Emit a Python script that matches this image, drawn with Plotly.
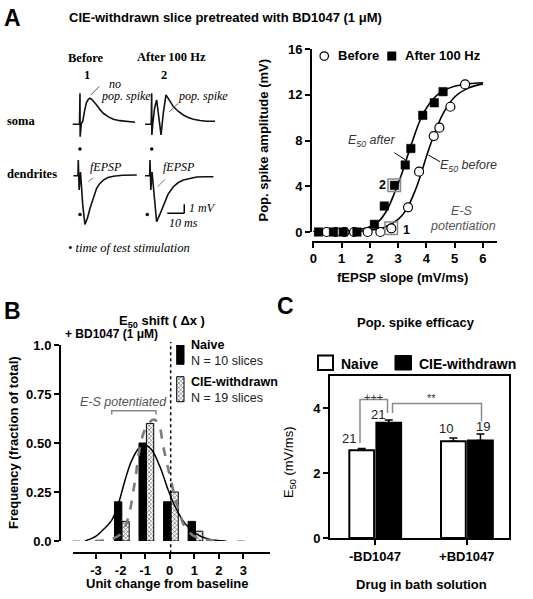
import plotly.graph_objects as go

W, H = 533, 599
def fx(p): return p / W
def fy(p): return 1 - p / H

SANS = "Liberation Sans, Arial, sans-serif"
SERIF = "Liberation Serif, Times New Roman, serif"

# ---------------- Panel A (right): input/output curves ----------------
before_slope = [0.47, 0.79, 1.1, 1.44, 1.92, 2.37, 2.76, 3.35, 3.74, 4.26, 4.46, 4.85, 5.37]
before_amp   = [0, 0, 0, 0, 0, 0, 0.32, 2.16, 5.27, 8.39, 9.12, 10.95, 12.9]
after_slope  = [0.18, 0.71, 1.06, 1.54, 2.16, 2.51, 2.87, 3.25, 3.45, 3.87, 4.28, 4.59]
after_amp    = [0, 0, 0, 0, 0.67, 2.27, 4.08, 5.86, 7.3, 10.2, 11.3, 12.27]
fit_before_slope = [0, 1, 1.5, 2, 2.5, 3, 3.3, 3.6, 3.8, 4.0, 4.3, 4.6, 5.0, 5.5, 6.0]
fit_before_amp   = [0, 0.02, 0.06, 0.15, 0.4, 1.1, 2.0, 3.6, 5.0, 6.6, 8.7, 10.4, 11.8, 12.6, 12.95]
fit_after_slope  = [0, 1, 1.5, 2, 2.3, 2.6, 2.9, 3.1, 3.3, 3.5, 3.8, 4.1, 4.5, 5.0, 5.5, 6.0]
fit_after_amp    = [0, 0.05, 0.15, 0.45, 0.9, 1.9, 3.6, 4.9, 6.4, 7.9, 9.9, 11.2, 12.2, 12.75, 12.95, 13.05]
slope_ticks = [0, 1, 2, 3, 4, 5, 6]
amp_ticks = [0, 4, 8, 12, 16]

# ---------------- Panel A (left): example traces (ms, mV rel. to stimulus/baseline) ----------------
soma_before_t = [-4.3, -0.3, 0.0, 0.1, 0.8, 1.6, 2.6, 3.8, 5.0, 5.9, 7.0, 8.5, 9.8, 11.5, 13.7, 16.5, 19.6, 23.5, 27.5, 32.4]
soma_before_v = [0, 0, 3.44, -1.38, 0.1, 0.3, 1.4, 2.4, 2.8, 2.89, 2.75, 2.45, 2.14, 1.7, 1.22, 0.85, 0.56, 0.4, 0.29, 0.22]
soma_after_t = [-3.9, -0.3, 0.0, 0.1, 0.6, 1.7, 2.9, 4.2, 5.5, 6.8, 8.4, 10.0, 12.7, 15.5, 18.6, 21.5, 24.5, 28.5, 32.4, 37.3]
soma_after_v = [0, 0, 3.44, -1.19, 0.0, 1.8, 2.7, 1.0, -1.19, 1.2, 3.26, 2.8, 1.96, 1.45, 1.03, 0.75, 0.56, 0.42, 0.33, 0.33]
dend_before_t = [-2.9, -0.2, 0.0, 0.5, 1.3, 2.6, 3.9, 5.4, 6.9, 8.8, 10.8, 12.7, 14.7, 17.5, 20.6, 26.0, 34.4]
dend_before_v = [0, 0, 1.74, -1.59, 0.41, -3.2, -5.4, -4.7, -3.62, -2.4, -1.4, -0.85, -0.48, -0.2, -0.05, 0.05, 0.08]
dend_after_t = [-2.9, -0.2, 0.0, 0.5, 1.2, 2.6, 3.9, 5.8, 7.8, 10.5, 13.7, 16.5, 19.6, 23.5, 27.5, 32.4, 37.3]
dend_after_v = [0, 0, 1.74, -1.59, 0.41, -3.0, -5.11, -4.3, -3.26, -2.1, -1.22, -0.78, -0.48, -0.28, -0.14, -0.11, -0.11]
stim_soma_t, stim_soma_v = [0.0, 0.0], [-2.75, -2.75]
stim_dend_t, stim_dend_v = [1.0, -1.6], [-4.3, -4.3]

# ---------------- Panel B: E50 shift histogram ----------------
shift_bins = [-2, -1, 0, 1]
naive_freq = [0.2, 0.5, 0.2, 0.1]
cie_freq   = [0.1, 0.6, 0.25, 0.05]
naive_fit_x = [-3.45, -3.0, -2.77, -2.36, -2.09, -1.82, -1.55, -1.21, -1.0, -0.73, -0.4, -0.06, 0.22, 0.62, 1.03, 1.57, 2.3]
naive_fit_y = [0.0, 0.025, 0.05, 0.107, 0.19, 0.31, 0.41, 0.48, 0.49, 0.464, 0.38, 0.26, 0.175, 0.09, 0.04, 0.01, 0.0]
cie_fit_x = [-3.05, -2.36, -1.96, -1.69, -1.41, -1.21, -1.0, -0.67, -0.46, -0.26, 0.01, 0.29, 0.62, 1.03, 1.57, 2.25]
cie_fit_y = [0.0, 0.01, 0.04, 0.12, 0.31, 0.48, 0.57, 0.62, 0.6, 0.48, 0.33, 0.19, 0.073, 0.022, 0.005, 0.0]
shift_ticks = [-3, -2, -1, 0, 1, 2, 3]
freq_ticks = [0, 0.25, 0.5, 0.75, 1.0]
freq_labels = ["0.0", "0.25", "0.50", "0.75", "1.0"]

# ---------------- Panel C: E50 bars ----------------
conditions = ["-BD1047", "+BD1047"]
naive_e50 = [2.7, 2.98]
naive_sem = [0.05, 0.1]
cie_e50 = [3.55, 3.0]
cie_sem = [0.08, 0.2]
naive_n = [21, 10]
cie_n = [21, 19]
e50_ticks = [0, 2, 4]

fig = go.Figure()

# ---- Panel A right traces
fig.add_trace(go.Scatter(x=fit_before_slope, y=fit_before_amp, mode="lines", line=dict(color="black", width=1.6, shape="spline"),
                         xaxis="x", yaxis="y", cliponaxis=False, showlegend=False))
fig.add_trace(go.Scatter(x=fit_after_slope, y=fit_after_amp, mode="lines", line=dict(color="black", width=1.6, shape="spline"),
                         xaxis="x", yaxis="y", cliponaxis=False, showlegend=False))
fig.add_trace(go.Scatter(x=before_slope, y=before_amp, mode="markers",
                         marker=dict(symbol="circle", size=9, color="white", line=dict(color="black", width=1.2)),
                         xaxis="x", yaxis="y", cliponaxis=False, showlegend=False))
fig.add_trace(go.Scatter(x=after_slope, y=after_amp, mode="markers",
                         marker=dict(symbol="square", size=8.5, color="black", line=dict(color="black", width=0.5)),
                         xaxis="x", yaxis="y", cliponaxis=False, showlegend=False))

# ---- Panel A left traces
MS_PX, MV_PX = 1.7, 9.0
origins = {"sb": (11.76, 12.86), "sa": (53.94, 12.86), "db": (10.76, 7.14), "da": (52.94, 7.14)}
def place(ts, vs, o):
    return [t + o[0] for t in ts], [v + o[1] for v in vs]
for ts, vs, key in [(soma_before_t, soma_before_v, "sb"), (soma_after_t, soma_after_v, "sa"),
                    (dend_before_t, dend_before_v, "db"), (dend_after_t, dend_after_v, "da")]:
    xs, ys = place(ts, vs, origins[key])
    fig.add_trace(go.Scatter(x=xs, y=ys, mode="lines", line=dict(color="#111", width=1.6),
                             xaxis="x2", yaxis="y2", showlegend=False, cliponaxis=False))
dot_x, dot_y = [], []
for t, v, key in zip(stim_soma_t, stim_soma_v, ["sb", "sa"]):
    dot_x.append(t + origins[key][0]); dot_y.append(v + origins[key][1])
for t, v, key in zip(stim_dend_t, stim_dend_v, ["db", "da"]):
    dot_x.append(t + origins[key][0]); dot_y.append(v + origins[key][1])
fig.add_trace(go.Scatter(x=dot_x, y=dot_y, mode="markers", marker=dict(color="black", size=3.5),
                         xaxis="x2", yaxis="y2", showlegend=False, cliponaxis=False))

# ---- Panel B traces
fig.add_trace(go.Bar(x=shift_bins, y=naive_freq, offset=-0.25, width=0.3,
                     marker=dict(color="black", line=dict(color="black", width=1)),
                     xaxis="x3", yaxis="y3", showlegend=False))
hatch = dict(color="#d4d4d4", line=dict(color="black", width=1),
             pattern=dict(shape="x", fgcolor="#505050", size=3, solidity=0.35))
fig.add_trace(go.Bar(x=shift_bins, y=cie_freq, offset=0.05, width=0.3, marker=hatch,
                     xaxis="x3", yaxis="y3", showlegend=False))
fig.add_trace(go.Scatter(x=naive_fit_x, y=naive_fit_y, mode="lines", line=dict(color="black", width=1.5, shape="spline"),
                         xaxis="x3", yaxis="y3", showlegend=False, cliponaxis=False))
fig.add_trace(go.Scatter(x=cie_fit_x, y=cie_fit_y, mode="lines",
                         line=dict(color="#7a7a7a", width=2.6, dash="dash", shape="spline"),
                         xaxis="x3", yaxis="y3", showlegend=False, cliponaxis=False))
fig.add_trace(go.Scatter(x=[-3.95, -3.65, None, 2.74, 3.07], y=[0, 0, None, 0, 0], mode="lines",
                         line=dict(color="#9a9a9a", width=1.5), xaxis="x3", yaxis="y3",
                         showlegend=False, cliponaxis=False))
# legend swatches for panel B (drawn on its axes)
B_X0, B_UX, B_Y0, B_UY = 169.7, 24.55, 541.0, 196.0
def bxd(p): return (p - B_X0) / B_UX
def byd(p): return (B_Y0 - p) / B_UY
sw_x = (bxd(176.7) + bxd(184)) / 2
sw_w = bxd(184) - bxd(176.7)
fig.add_trace(go.Bar(x=[sw_x], y=[byd(340.7) - byd(364.3)], base=[byd(364.3)], width=sw_w,
                     marker=dict(color="black", line=dict(color="black", width=1)),
                     xaxis="x3", yaxis="y3", showlegend=False, cliponaxis=False))
fig.add_trace(go.Bar(x=[sw_x], y=[byd(376.7) - byd(401.7)], base=[byd(401.7)], width=sw_w, marker=hatch,
                     xaxis="x3", yaxis="y3", showlegend=False, cliponaxis=False))

# ---- Panel C traces
cond_x = list(range(len(conditions)))
fig.add_trace(go.Bar(x=cond_x, y=naive_e50, offset=-0.28, width=0.27,
                     marker=dict(color="white", line=dict(color="black", width=2)),
                     error_y=dict(type="data", array=naive_sem, arrayminus=[0] * len(naive_sem), symmetric=False,
                                  color="black", thickness=1.5, width=4),
                     xaxis="x4", yaxis="y4", showlegend=False))
fig.add_trace(go.Bar(x=cond_x, y=cie_e50, offset=0.015, width=0.27,
                     marker=dict(color="black", line=dict(color="black", width=2)),
                     error_y=dict(type="data", array=cie_sem, arrayminus=[0] * len(cie_sem), symmetric=False,
                                  color="black", thickness=1.5, width=4),
                     xaxis="x4", yaxis="y4", showlegend=False))

# ---------------- annotations ----------------
anns = []
def ann(text, x, y, size=13, bold=True, italic=False, family=SANS, color="black",
        xanchor="center", yanchor="middle", angle=0, xref="paper", yref="paper"):
    if xref == "paper":
        x = fx(x)
    if yref == "paper":
        y = fy(y)
    t = text
    if italic:
        t = "<i>" + t + "</i>"
    if bold:
        t = "<b>" + t + "</b>"
    anns.append(dict(text=t, x=x, y=y, xref=xref, yref=yref, showarrow=False, xanchor=xanchor, yanchor=yanchor,
                     textangle=angle, font=dict(size=size, family=family, color=color)))

# panel letters & titles
ann("A", 2, 18, size=23, xanchor="left")
ann("B", 2, 311, size=23, xanchor="left")
ann("C", 275, 306, size=23, xanchor="left")
ann("CIE-withdrawn slice pretreated with BD1047 (1 μM)", 67, 18, size=13, xanchor="left")

# panel A left labels
ann("Before", 85.5, 57.5, size=12.5, family=SERIF)
ann("After 100 Hz", 171, 57, size=12.5, family=SERIF)
ann("1", 87, 75, size=12.5, family=SERIF)
ann("2", 164, 75, size=12.5, family=SERIF)
ann("soma", 5, 121, size=12.5, family=SERIF, xanchor="left")
ann("dendrites", 5, 174, size=12.5, family=SERIF, xanchor="left")
ann("no", 107, 84, size=12, bold=False, italic=True, family=SERIF, xanchor="left")
ann("pop. spike", 99, 96, size=12, bold=False, italic=True, family=SERIF, xanchor="left")
ann("pop. spike", 176, 96, size=12, bold=False, italic=True, family=SERIF, xanchor="left")
ann("fEPSP", 88, 167, size=12, bold=False, italic=True, family=SERIF, xanchor="left")
ann("fEPSP", 161, 167, size=12, bold=False, italic=True, family=SERIF, xanchor="left")
ann("1 mV", 187, 208.5, size=12, bold=False, italic=True, family=SERIF, xanchor="left")
ann("10 ms", 167, 223, size=12, bold=False, italic=True, family=SERIF, xanchor="left")
ann("• time of test stimulation", 66, 247.5, size=12.5, bold=False, italic=True, family=SERIF, xanchor="left")

# panel A right labels
ann("Pop. spike amplitude (mV)", 263, 140.5, size=13, angle=-90)
ann("fEPSP slope (mV/ms)", 402.5, 278, size=13)
ann("Before", 336, 56, size=13, xanchor="left")
ann("After 100 Hz", 403, 56, size=13, xanchor="left")
ann("E<sub>50</sub> after", 371.5, 141, size=12.5, bold=False, italic=True, color="#333")
ann("E<sub>50</sub> before", 468.5, 166, size=12.5, bold=False, italic=True, color="#333")
ann("E-S", 462, 211.5, size=12.5, bold=False, italic=True, color="#555")
ann("potentiation", 463, 225.5, size=12.5, bold=False, italic=True, color="#555")
ann("2", 382, 184.5, size=12.5)
ann("1", 401, 229.5, size=12.5, xanchor="left")

# panel B labels
ann("E<sub>50</sub> shift ( Δx )", 162, 321, size=13)
ann("+ BD1047 (1 μM)", 63, 334, size=12, xanchor="left")
ann("Frequency (fraction of total)", 13, 443, size=13, angle=-90)
ann("Unit change from baseline", 167, 583, size=13)
ann("Naive", 189, 345, size=12.5, xanchor="left")
ann("N = 10 slices", 189, 361, size=12.5, bold=False, xanchor="left", color="#222")
ann("CIE-withdrawn", 189, 382, size=12.5, xanchor="left")
ann("N = 19 slices", 189, 397.5, size=12.5, bold=False, xanchor="left", color="#222")
ann("E-S potentiated", 123.5, 402, size=12.5, bold=False, italic=True, color="#555")

# panel C labels
ann("Pop. spike efficacy", 416, 322, size=13)
ann("Naive", 339, 363.5, size=14, xanchor="left")
ann("CIE-withdrawn", 416.5, 363.5, size=14, xanchor="left")
ann("E<sub>50</sub> (mV/ms)", 289, 462, size=13, bold=False, angle=-90)
ann("Drug in bath solution", 421, 584, size=13)
C_X0, C_UX, C_Y0, C_UY = 375.0, 91.7, 538.0, 32.5
def cxd(p): return (p - C_X0) / C_UX
def cyd(p): return (C_Y0 - p) / C_UY
ann(str(naive_n[0]), -0.28, naive_e50[0] + naive_sem[0] + 0.3, size=13, bold=False, xref="x4", yref="y4", color="#222")
ann(str(naive_n[1]), 1 - 0.23, naive_e50[1] + naive_sem[1] + 0.28, size=13, bold=False, xref="x4", yref="y4", color="#222")
ann(str(cie_n[0]), 0.035, cie_e50[0] + cie_sem[0] + 0.18, size=13, bold=False, xref="x4", yref="y4", color="#222")
ann(str(cie_n[1]), 1.18, cie_e50[1] + cie_sem[1] + 0.23, size=13, bold=False, xref="x4", yref="y4", color="#222")
ann("+++", cxd(373), cyd(396.5), size=11, bold=False, xref="x4", yref="y4", color="#333")
ann("**", cxd(431), cyd(398), size=11, bold=False, xref="x4", yref="y4", color="#333")

# ---------------- shapes ----------------
shapes = []
def pline(x0, y0, x1, y1, color="black", width=1, dash="solid"):
    shapes.append(dict(type="line", xref="paper", yref="paper", x0=fx(x0), y0=fy(y0), x1=fx(x1), y1=fy(y1),
                       line=dict(color=color, width=width, dash=dash)))
# A left leader lines
pline(90.7, 95, 99.3, 86.5, color="#444", width=0.9)
pline(169.3, 111.7, 178.3, 103.3, color="#444", width=0.9)
pline(88.3, 181.7, 93.3, 177.7, color="#666", width=0.9)
pline(157.7, 186.7, 165, 179.3, color="#666", width=0.9)
# scale bar (in trace axes: ms / mV)
sb_t0, sb_v0 = 63.1, 2.97
shapes.append(dict(type="line", xref="x2", yref="y2", x0=sb_t0, y0=sb_v0, x1=sb_t0 + 10, y1=sb_v0, line=dict(color="black", width=1.5)))
shapes.append(dict(type="line", xref="x2", yref="y2", x0=sb_t0 + 10, y0=sb_v0, x1=sb_t0 + 10, y1=sb_v0 + 1, line=dict(color="black", width=1.5)))
# A right: leader lines, boxes, legend symbols
pline(394.3, 152.7, 405.7, 160, width=1)
pline(428.3, 155, 440, 161.7, width=1)
shapes.append(dict(type="rect", xref="paper", yref="paper", x0=fx(388), x1=fx(400.5), y0=fy(191.5), y1=fy(179),
                   line=dict(color="#888", width=1.5)))
shapes.append(dict(type="rect", xref="paper", yref="paper", x0=fx(385), x1=fx(397.5), y0=fy(234.5), y1=fy(222),
                   line=dict(color="#888", width=1.5)))
shapes.append(dict(type="circle", xref="paper", yref="paper", x0=fx(320), x1=fx(328.5), y0=fy(60.3), y1=fy(51.8),
                   line=dict(color="black", width=1.2), fillcolor="white"))
shapes.append(dict(type="rect", xref="paper", yref="paper", x0=fx(387.5), x1=fx(396), y0=fy(60.3), y1=fy(51.8),
                   line=dict(color="black", width=0.5), fillcolor="black"))
# B: dotted zero line and bracket
shapes.append(dict(type="line", xref="x3", yref="paper", x0=0.04, x1=0.04, y0=fy(553.3), y1=fy(342),
                   line=dict(color="black", width=1.5, dash="dot")))
br_y = byd(410.7); br_d = byd(414.5)
shapes.append(dict(type="path", xref="x3", yref="y3",
                   path=f"M {bxd(111.7)},{br_d} L {bxd(111.7)},{br_y} L {bxd(156)},{br_y} L {bxd(156)},{br_d}",
                   line=dict(color="#888", width=1.5)))
# C: significance brackets
shapes.append(dict(type="path", xref="x4", yref="y4",
                   path=f"M {cxd(360)},{cyd(443)} L {cxd(360)},{cyd(399.5)} L {cxd(387.5)},{cyd(399.5)} L {cxd(387.5)},{cyd(413)}",
                   line=dict(color="#8a8a8a", width=1.5)))
shapes.append(dict(type="path", xref="x4", yref="y4",
                   path=f"M {cxd(392.5)},{cyd(413)} L {cxd(392.5)},{cyd(403.5)} L {cxd(481.5)},{cyd(403.5)} L {cxd(481.5)},{cyd(421.5)}",
                   line=dict(color="#8a8a8a", width=1.5)))
# C legend boxes
shapes.append(dict(type="rect", xref="paper", yref="paper", x0=fx(318), x1=fx(333), y0=fy(370), y1=fy(355.5),
                   line=dict(color="black", width=2), fillcolor="white"))
shapes.append(dict(type="rect", xref="paper", yref="paper", x0=fx(395), x1=fx(411.5), y0=fy(370), y1=fy(355.5),
                   line=dict(color="black", width=1), fillcolor="black"))

tickfont = dict(family=SANS, size=13, color="black", weight="bold")
axis_common = dict(showgrid=False, zeroline=False, showline=True, linecolor="black", linewidth=2,
                   ticks="outside", ticklen=5, tickwidth=2, tickcolor="black", tickfont=tickfont,
                   automargin=False)

fig.update_layout(
    template="none",
    width=W, height=H, autosize=False,
    margin=dict(l=0, r=0, t=0, b=0, pad=0, autoexpand=False),
    paper_bgcolor="white", plot_bgcolor="rgba(0,0,0,0)",
    font=dict(family=SANS, color="black"),
    barmode="overlay", bargap=0,
    showlegend=False,
    xaxis=dict(domain=[fx(312), fx(497)], range=[-0.05, 6.5], anchor="free", position=fy(241.7),
               tickvals=slope_ticks, **axis_common),
    yaxis=dict(domain=[fy(232), fy(49)], range=[0, 16], anchor="x", tickvals=amp_ticks, **axis_common),
    xaxis2=dict(domain=[fx(60), fx(240)], range=[0, 180 / MS_PX], anchor="y2", visible=False, automargin=False),
    yaxis2=dict(domain=[fy(240), fy(80)], range=[0, 160 / MV_PX], anchor="x2", visible=False, automargin=False),
    xaxis3=dict(domain=[fx(72.7), fx(270)], range=[bxd(72.7), bxd(270)], anchor="free", position=fy(553.3),
                tickvals=shift_ticks, ticktext=[str(v) for v in shift_ticks], **axis_common),
    yaxis3=dict(domain=[fy(541), fy(345)], range=[0, 1], anchor="free", position=fx(60),
                tickvals=freq_ticks, ticktext=freq_labels, **axis_common),
    xaxis4=dict(domain=[fx(330), fx(509.3)], range=[cxd(330), cxd(509.3)], anchor="y4", mirror=True,
                tickvals=cond_x, ticktext=conditions, **axis_common),
    yaxis4=dict(domain=[fy(538), fy(375.5)], range=[0, 5], anchor="x4", mirror=True,
                tickvals=e50_ticks, **axis_common),
    annotations=anns,
    shapes=shapes,
)

fig.write_html("out.html", config={"displayModeBar": False, "staticPlot": True},
               post_script="document.body.style.margin='0px';document.body.style.overflow='hidden';")
